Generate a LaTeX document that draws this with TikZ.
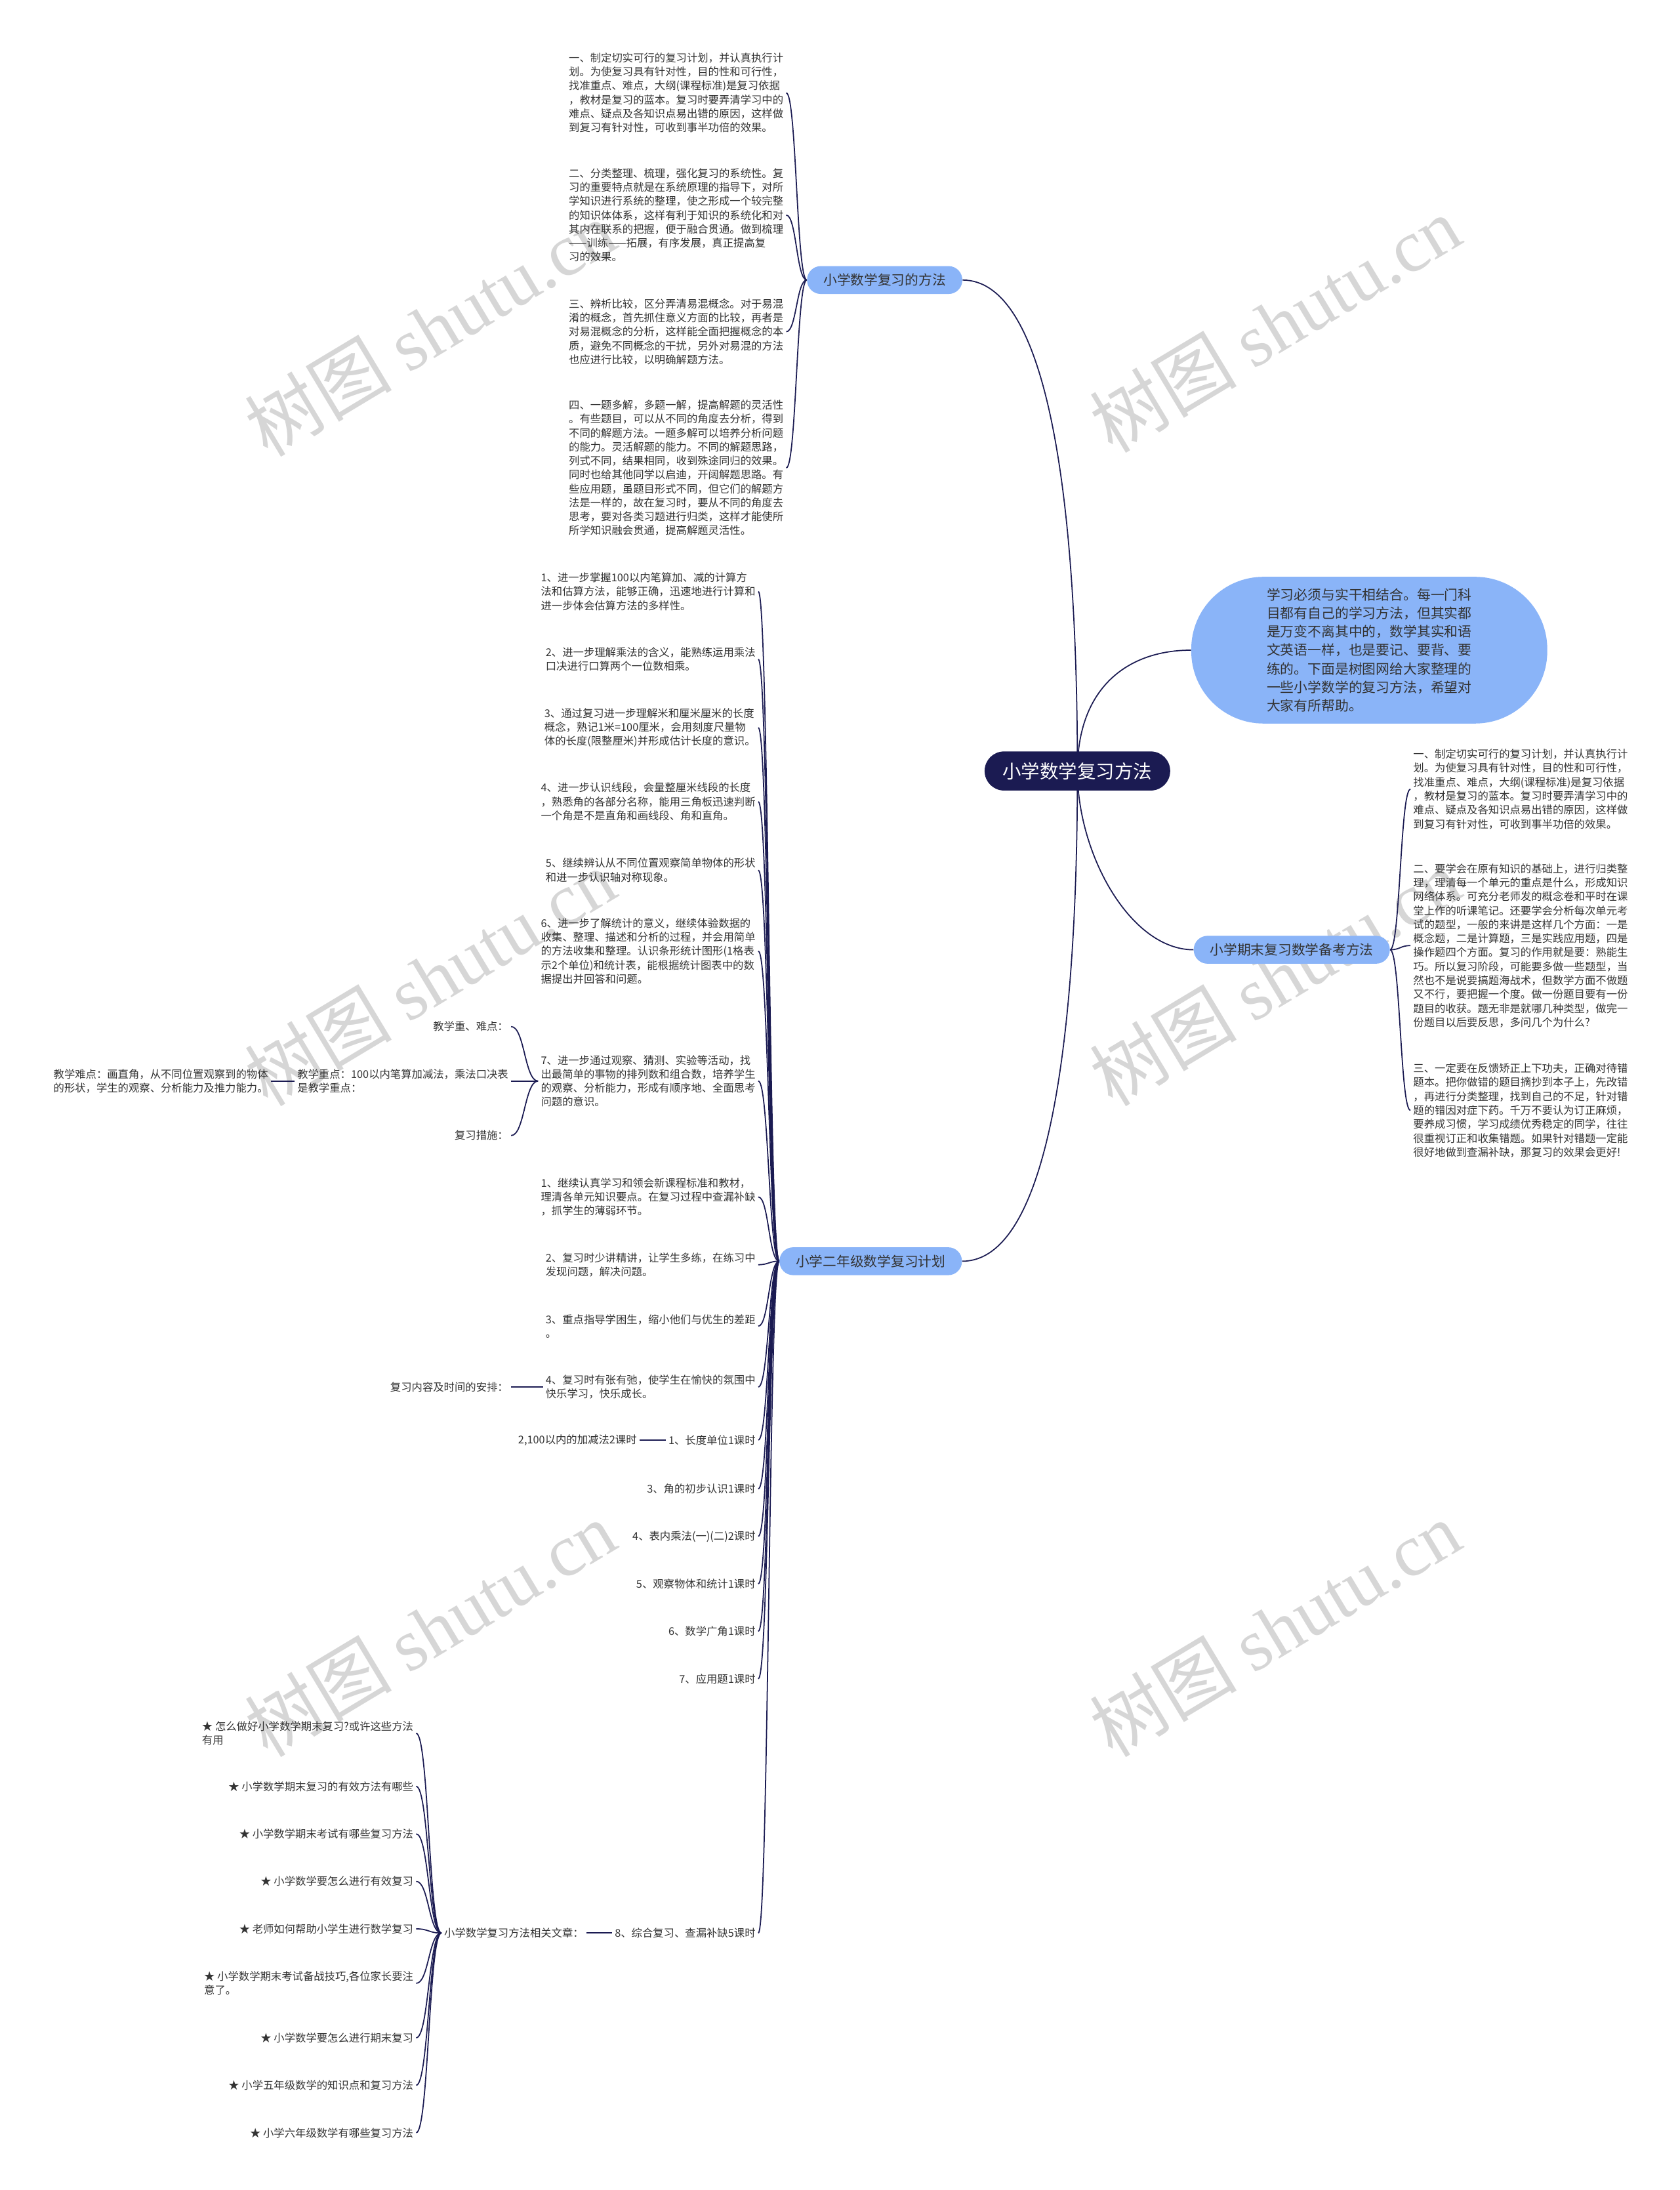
\documentclass[tikz,border=0pt]{standalone}
\usepackage{fontspec}
\setmainfont{Noto Sans CJK SC}
\newfontfamily\wmserif{Liberation Serif}
\usepackage{tikz}
\usetikzlibrary{calc, backgrounds}
\usepackage{xcolor}
\definecolor{MapNavy}{HTML}{1B1B52}
\definecolor{MapBlue}{HTML}{8AB4F8}
\definecolor{MapInk}{HTML}{333333}
\definecolor{MapMark}{HTML}{D6D6D6}
\tikzset{
    % Node styles
    rootbox/.style={
        rectangle,
        rounded corners=5.9mm,
        fill=MapNavy,
        text=white,
        minimum height=11.9mm,
        inner xsep=5.5mm,
        font=\fontsize{16.2}{19}\selectfont
    },
    introbox/.style={
        rectangle,
        rounded corners=22mm,
        fill=MapBlue,
        text=MapInk,
        minimum width=108.5mm,
        minimum height=44.7mm,
        align=left,
        font=\fontsize{11.85}{16}\selectfont
    },
    topicbox/.style={
        rectangle,
        rounded corners=4.2mm,
        fill=MapBlue,
        text=MapInk,
        minimum height=8.5mm,
        inner xsep=5mm,
        font=\fontsize{11.8}{14}\selectfont
    },
    leafbox/.style={
        rectangle,
        inner sep=0.8mm,
        text=MapInk,
        align=left,
        font=\fontsize{9.3}{12.1}\selectfont
    },
    wmark/.style={
        rotate=31,
        text=MapMark,
        font=\fontsize{64}{70}\selectfont
    },
    % Connector styles
    link/.style={
        draw=MapNavy,
        line width=1pt
    },
    twig/.style={
        to path={.. controls ($(\tikztostart)!0.5!(\tikztotarget|-\tikztostart)$)
            and ($(\tikztotarget)!0.5!(\tikztostart|-\tikztotarget)$) .. (\tikztotarget)}
    }
}
\begin{document}
\begin{tikzpicture}[x=0.4256mm, y=-0.4256mm]
    \useasboundingbox (0,0) rectangle (1203,1568);

    % Root and main topics
    \node[rootbox] (ctr) at (771.5,552) {小学数学复习方法};
    \node[introbox] (intro) at (980.5,465.5) {学习必须与实干相结合。每一门科\\目都有自己的学习方法，但其实都\\是万变不离其中的，数学其实和语\\文英语一样，也是要记、要背、要\\练的。下面是树图网给大家整理的\\一些小学数学的复习方法，希望对\\大家有所帮助。};
    \node[topicbox] (way) at (633.5,200.5) {小学数学复习的方法};
    \node[topicbox] (exam) at (925,680) {小学期末复习数学备考方法};
    \node[topicbox] (plan) at (623.5,903) {小学二年级数学复习计划};

    % Review methods
    \node[leafbox, anchor=east] (w1) at (563,66.5) {一、制定切实可行的复习计划，并认真执行计\\划。为使复习具有针对性，目的性和可行性，\\找准重点、难点，大纲(课程标准)是复习依据\\，教材是复习的蓝本。复习时要弄清学习中的\\难点、疑点及各知识点易出错的原因，这样做\\到复习有针对性，可收到事半功倍的效果。};
    \node[leafbox, anchor=east] (w2) at (563,154) {二、分类整理、梳理，强化复习的系统性。复\\习的重要特点就是在系统原理的指导下，对所\\学知识进行系统的整理，使之形成一个较完整\\的知识体体系，这样有利于知识的系统化和对\\其内在联系的把握，便于融合贯通。做到梳理\\——训练——拓展，有序发展，真正提高复\\习的效果。};
    \node[leafbox, anchor=east] (w3) at (563,237.5) {三、辨析比较，区分弄清易混概念。对于易混\\淆的概念，首先抓住意义方面的比较，再者是\\对易混概念的分析，这样能全面把握概念的本\\质，避免不同概念的干扰，另外对易混的方法\\也应进行比较，以明确解题方法。};
    \node[leafbox, anchor=east] (w4) at (563,335) {四、一题多解，多题一解，提高解题的灵活性\\。有些题目，可以从不同的角度去分析，得到\\不同的解题方法。一题多解可以培养分析问题\\的能力。灵活解题的能力。不同的解题思路，\\列式不同，结果相同，收到殊途同归的效果。\\同时也给其他同学以启迪，开阔解题思路。有\\些应用题，虽题目形式不同，但它们的解题方\\法是一样的，故在复习时，要从不同的角度去\\思考，要对各类习题进行归类，这样才能使所\\所学知识融会贯通，提高解题灵活性。};

    % Exam preparation
    \node[leafbox, anchor=west] (e1) at (1010,565) {一、制定切实可行的复习计划，并认真执行计\\划。为使复习具有针对性，目的性和可行性，\\找准重点、难点，大纲(课程标准)是复习依据\\，教材是复习的蓝本。复习时要弄清学习中的\\难点、疑点及各知识点易出错的原因，这样做\\到复习有针对性，可收到事半功倍的效果。};
    \node[leafbox, anchor=west] (e2) at (1010,677) {二、要学会在原有知识的基础上，进行归类整\\理，理清每一个单元的重点是什么，形成知识\\网络体系。可充分老师发的概念卷和平时在课\\堂上作的听课笔记。还要学会分析每次单元考\\试的题型，一般的来讲是这样几个方面：一是\\概念题，二是计算题，三是实践应用题，四是\\操作题四个方面。复习的作用就是要：熟能生\\巧。所以复习阶段，可能要多做一些题型，当\\然也不是说要搞题海战术，但数学方面不做题\\又不行，要把握一个度。做一份题目要有一份\\题目的收获。题无非是就哪几种类型，做完一\\份题目以后要反思，多问几个为什么?};
    \node[leafbox, anchor=west] (e3) at (1010,795) {三、一定要在反馈矫正上下功夫，正确对待错\\题本。把你做错的题目摘抄到本子上，先改错\\，再进行分类整理，找到自己的不足，针对错\\题的错因对症下药。千万不要认为订正麻烦，\\要养成习惯，学习成绩优秀稳定的同学，往往\\很重视订正和收集错题。如果针对错题一定能\\很好地做到查漏补缺，那复习的效果会更好!};

    % Grade two plan
    \node[leafbox, anchor=east] (p1) at (543,423.5) {1、进一步掌握100以内笔算加、减的计算方\\法和估算方法，能够正确，迅速地进行计算和\\进一步体会估算方法的多样性。};
    \node[leafbox, anchor=east] (p2) at (543,472) {2、进一步理解乘法的含义，能熟练运用乘法\\口决进行口算两个一位数相乘。};
    \node[leafbox, anchor=east] (p3) at (543,521) {3、通过复习进一步理解米和厘米厘米的长度\\概念，熟记1米=100厘米，会用刻度尺量物\\体的长度(限整厘米)并形成估计长度的意识。};
    \node[leafbox, anchor=east] (p4) at (543,574) {4、进一步认识线段，会量整厘米线段的长度\\，熟悉角的各部分名称，能用三角板迅速判断\\一个角是不是直角和画线段、角和直角。};
    \node[leafbox, anchor=east] (p5) at (543,623) {5、继续辨认从不同位置观察简单物体的形状\\和进一步认识轴对称现象。};
    \node[leafbox, anchor=east] (p6) at (543,681) {6、进一步了解统计的意义，继续体验数据的\\收集、整理、描述和分析的过程，并会用简单\\的方法收集和整理。认识条形统计图形(1格表\\示2个单位)和统计表，能根据统计图表中的数\\据提出并回答和问题。};
    \node[leafbox, anchor=east] (p7) at (543,774) {7、进一步通过观察、猜测、实验等活动，找\\出最简单的事物的排列数和组合数，培养学生\\的观察、分析能力，形成有顺序地、全面思考\\问题的意识。};
    \node[leafbox, anchor=east] (k1) at (366,735) {教学重、难点：};
    \node[leafbox, anchor=east] (k2) at (366,774) {教学重点：100以内笔算加减法，乘法口决表\\是教学重点：};
    \node[leafbox, anchor=east] (k3) at (366,813) {复习措施：};
    \node[leafbox, anchor=east] (hard) at (194,774) {教学难点：画直角，从不同位置观察到的物体\\的形状，学生的观察、分析能力及推力能力。};
    \node[leafbox, anchor=east] (q1) at (543,857) {1、继续认真学习和领会新课程标准和教材，\\理清各单元知识要点。在复习过程中查漏补缺\\，抓学生的薄弱环节。};
    \node[leafbox, anchor=east] (q2) at (543,905.5) {2、复习时少讲精讲，让学生多练，在练习中\\发现问题，解决问题。};
    \node[leafbox, anchor=east] (q3) at (543,949.5) {3、重点指导学困生，缩小他们与优生的差距\\。};
    \node[leafbox, anchor=east] (q4) at (543,993) {4、复习时有张有弛，使学生在愉快的氛围中\\快乐学习，快乐成长。};
    \node[leafbox, anchor=east] (arr) at (366,993) {复习内容及时间的安排：};
    \node[leafbox, anchor=east] (c1) at (543,1031) {1、长度单位1课时};
    \node[leafbox, anchor=east] (c2) at (458,1031) {2,100以内的加减法2课时};
    \node[leafbox, anchor=east] (c3) at (543,1066) {3、角的初步认识1课时};
    \node[leafbox, anchor=east] (c4) at (543,1100) {4、表内乘法(一)(二)2课时};
    \node[leafbox, anchor=east] (c5) at (543,1134) {5、观察物体和统计1课时};
    \node[leafbox, anchor=east] (c6) at (543,1168) {6、数学广角1课时};
    \node[leafbox, anchor=east] (c7) at (543,1202) {7、应用题1课时};
    \node[leafbox, anchor=east] (c8) at (543,1384) {8、综合复习、查漏补缺5课时};
    \node[leafbox, anchor=east] (rel) at (420,1384) {小学数学复习方法相关文章：};

    % Related articles
    \node[leafbox, anchor=east] (s1) at (298,1241) {★ 怎么做好小学数学期末复习?或许这些方法\\有用};
    \node[leafbox, anchor=east] (s2) at (298,1279) {★ 小学数学期末复习的有效方法有哪些};
    \node[leafbox, anchor=east] (s3) at (298,1313) {★ 小学数学期末考试有哪些复习方法};
    \node[leafbox, anchor=east] (s4) at (298,1347) {★ 小学数学要怎么进行有效复习};
    \node[leafbox, anchor=east] (s5) at (298,1381) {★ 老师如何帮助小学生进行数学复习};
    \node[leafbox, anchor=east] (s6) at (298,1420) {★ 小学数学期末考试备战技巧,各位家长要注\\意了。};
    \node[leafbox, anchor=east] (s7) at (298,1459) {★ 小学数学要怎么进行期末复习};
    \node[leafbox, anchor=east] (s8) at (298,1493) {★ 小学五年级数学的知识点和复习方法};
    \node[leafbox, anchor=east] (s9) at (298,1527) {★ 小学六年级数学有哪些复习方法};

    \begin{scope}[on background layer]
        % Watermarks
        \node[wmark] (m1) at (308,235) {树图 {\wmserif shutu.cn}};
        \node[wmark] (m2) at (913,232) {树图 {\wmserif shutu.cn}};
        \node[wmark] (m3) at (308,700) {树图 {\wmserif shutu.cn}};
        \node[wmark] (m4) at (913,700) {树图 {\wmserif shutu.cn}};
        \node[wmark] (m5) at (308,1166) {树图 {\wmserif shutu.cn}};
        \node[wmark] (m6) at (913,1166) {树图 {\wmserif shutu.cn}};

        % Main branches
        \draw[link] (ctr.center) .. controls +(0,-200) and +(60,0) .. (way.east);
        \draw[link] (ctr.center) .. controls +(0,200) and +(60,0) .. (plan.east);
        \draw[link] (ctr.center) .. controls +(0,-60) and +(-45,0) .. (intro.west);
        \draw[link] (ctr.center) .. controls +(0,60) and +(-45,0) .. (exam.west);

        % Sub branches
        \draw[link] (way.west) to[twig] (w1.east);
        \draw[link] (way.west) to[twig] (w2.east);
        \draw[link] (way.west) to[twig] (w3.east);
        \draw[link] (way.west) to[twig] (w4.east);
        \draw[link] (exam.east) to[twig] (e1.west);
        \draw[link] (exam.east) to[twig] (e2.west);
        \draw[link] (exam.east) to[twig] (e3.west);
        \draw[link] (plan.west) to[twig] (p1.east);
        \draw[link] (plan.west) to[twig] (p2.east);
        \draw[link] (plan.west) to[twig] (p3.east);
        \draw[link] (plan.west) to[twig] (p4.east);
        \draw[link] (plan.west) to[twig] (p5.east);
        \draw[link] (plan.west) to[twig] (p6.east);
        \draw[link] (plan.west) to[twig] (p7.east);
        \draw[link] (plan.west) to[twig] (q1.east);
        \draw[link] (plan.west) to[twig] (q2.east);
        \draw[link] (plan.west) to[twig] (q3.east);
        \draw[link] (plan.west) to[twig] (q4.east);
        \draw[link] (plan.west) to[twig] (c1.east);
        \draw[link] (plan.west) to[twig] (c3.east);
        \draw[link] (plan.west) to[twig] (c4.east);
        \draw[link] (plan.west) to[twig] (c5.east);
        \draw[link] (plan.west) to[twig] (c6.east);
        \draw[link] (plan.west) to[twig] (c7.east);
        \draw[link] (plan.west) to[twig] (c8.east);
        \draw[link] (p7.west) to[twig] (k1.east);
        \draw[link] (p7.west) to[twig] (k2.east);
        \draw[link] (p7.west) to[twig] (k3.east);
        \draw[link] (k2.west) to[twig] (hard.east);
        \draw[link] (q4.west) to[twig] (arr.east);
        \draw[link] (c1.west) to[twig] (c2.east);
        \draw[link] (c8.west) to[twig] (rel.east);
        \draw[link] (rel.west) to[twig] (s1.east);
        \draw[link] (rel.west) to[twig] (s2.east);
        \draw[link] (rel.west) to[twig] (s3.east);
        \draw[link] (rel.west) to[twig] (s4.east);
        \draw[link] (rel.west) to[twig] (s5.east);
        \draw[link] (rel.west) to[twig] (s6.east);
        \draw[link] (rel.west) to[twig] (s7.east);
        \draw[link] (rel.west) to[twig] (s8.east);
        \draw[link] (rel.west) to[twig] (s9.east);
    \end{scope}
\end{tikzpicture}
\end{document}
